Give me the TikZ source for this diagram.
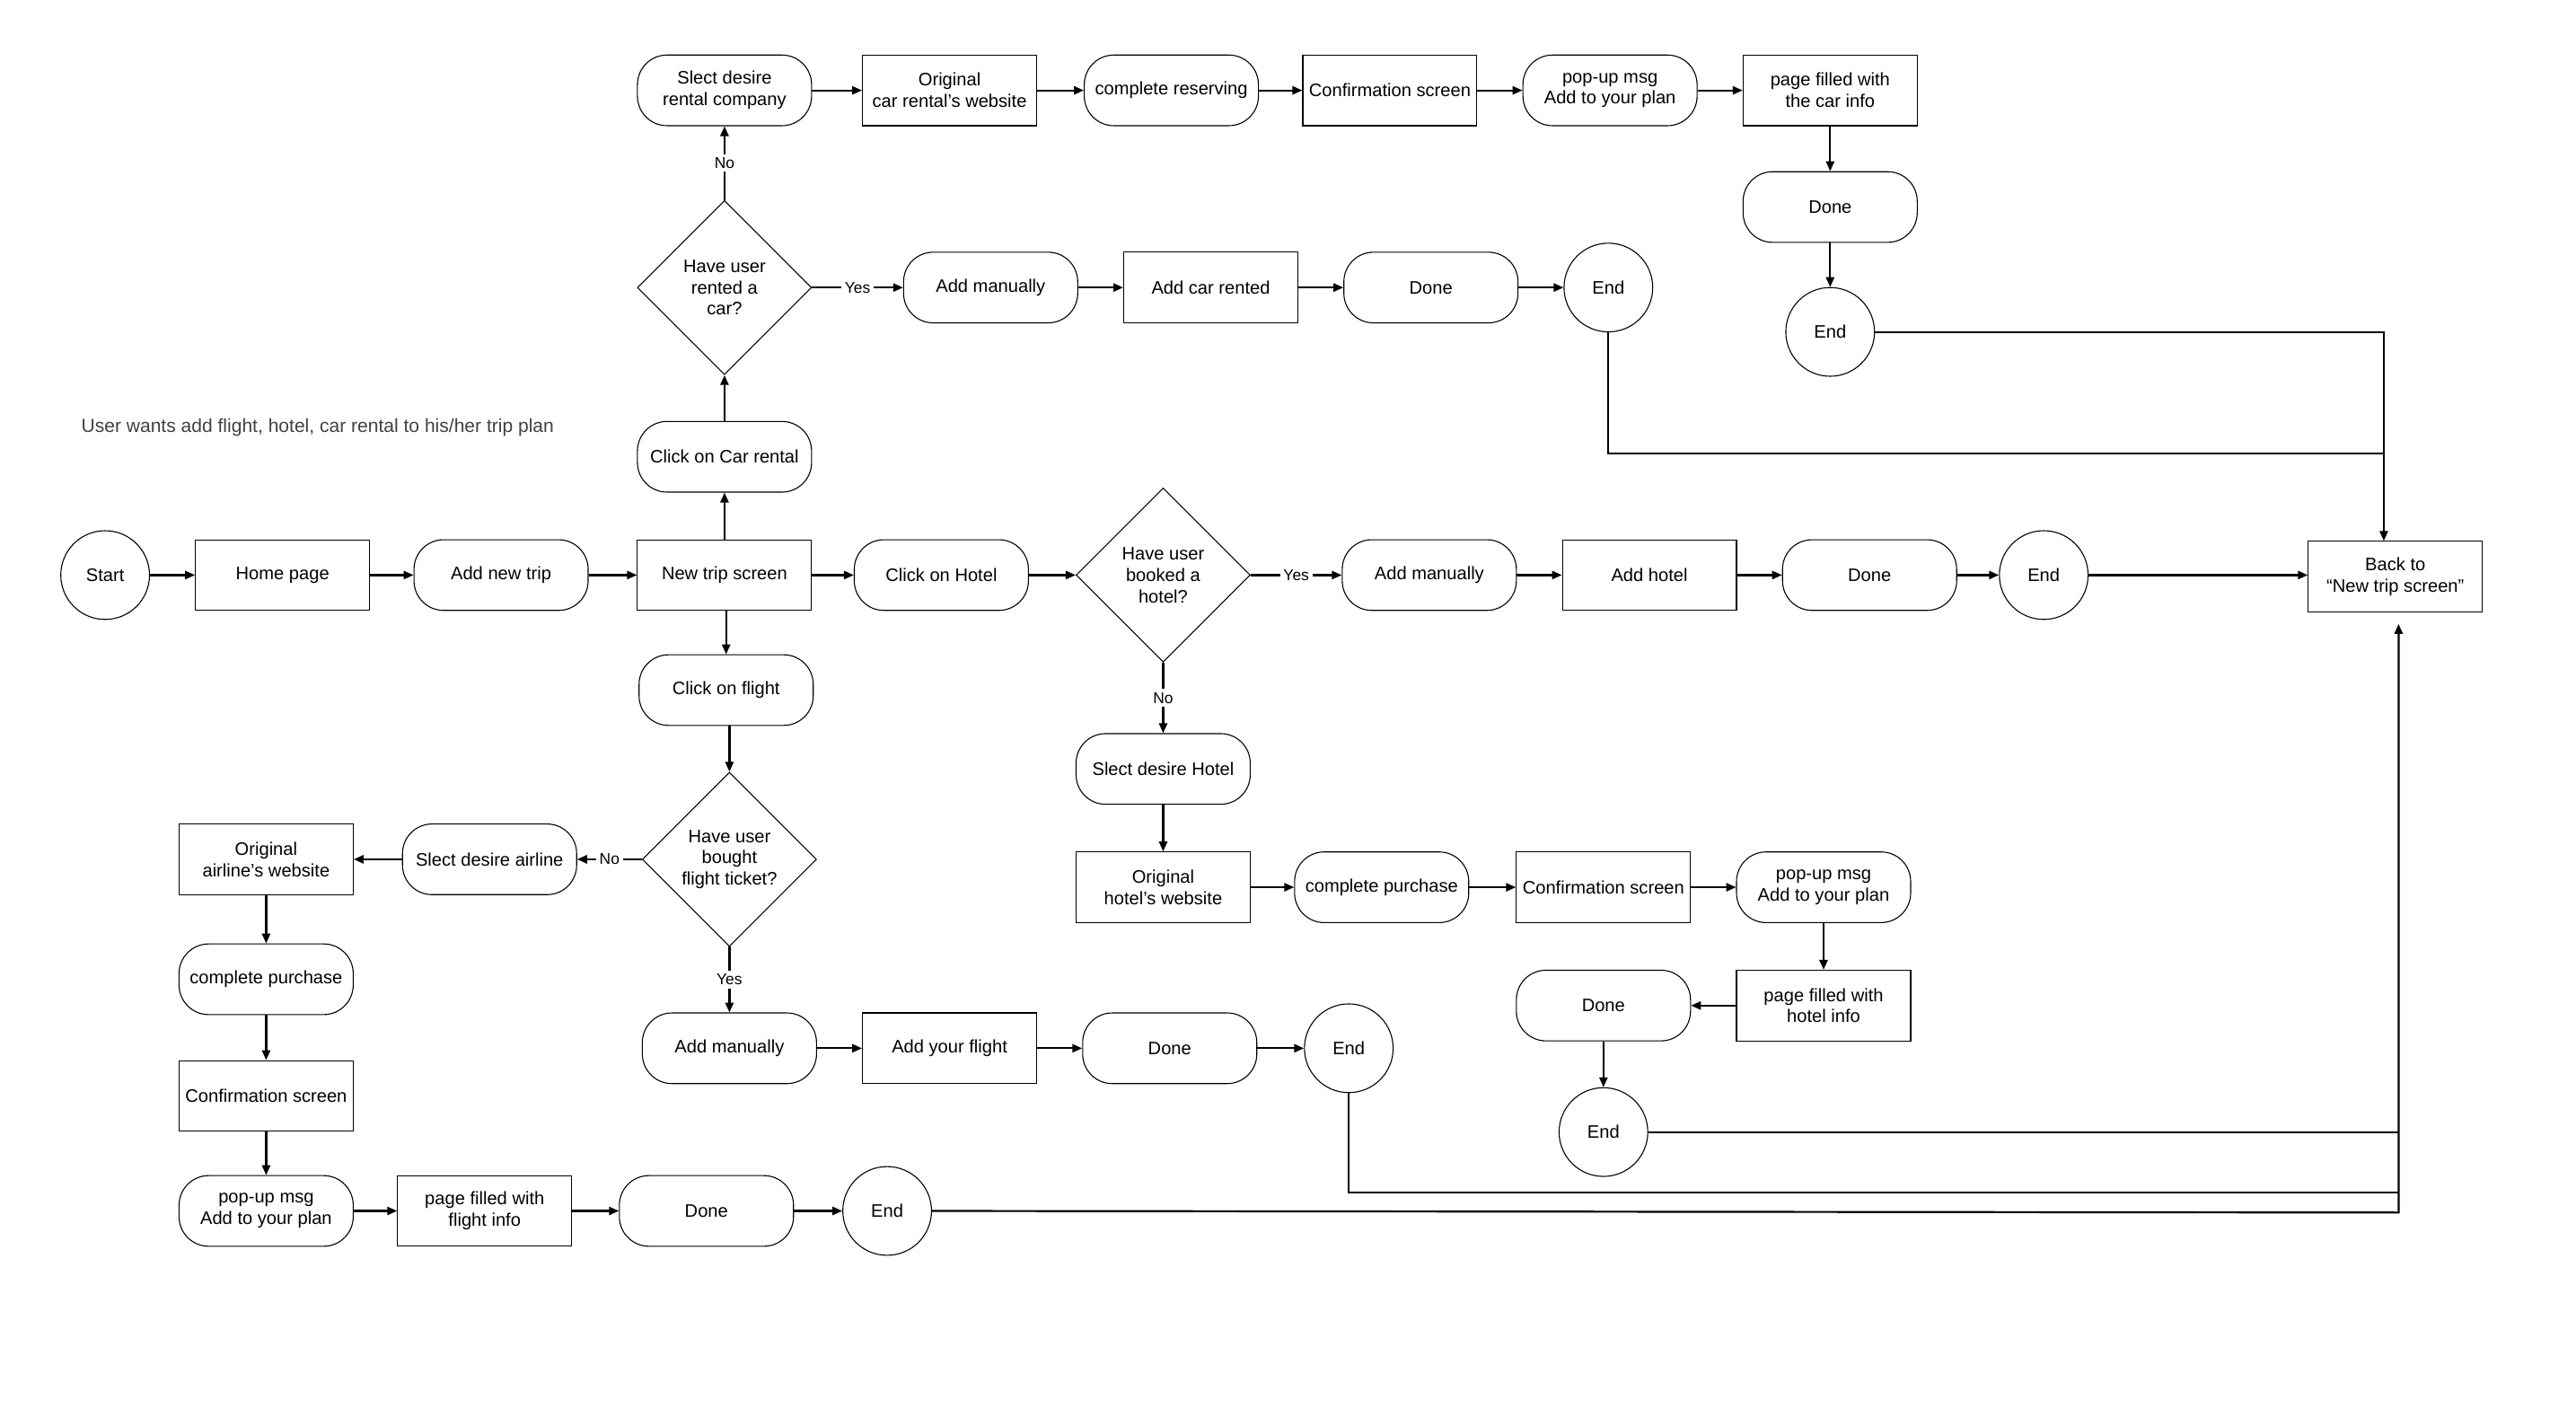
\documentclass[tikz,border=0pt]{standalone}
\usepackage{fontspec}
\setmainfont{Liberation Sans}
\usetikzlibrary{shapes.geometric}
\usetikzlibrary{arrows.meta}
\newcommand{\txt}{\fontsize{11}{13}\selectfont}
\tikzset{
  rectbox/.style={draw, line width=0.6pt, rectangle, minimum width=106pt, minimum height=43pt, inner sep=1pt, align=center, font=\txt},
  pillbox/.style={rectbox, rounded corners=18pt},
  circbox/.style={draw, line width=0.6pt, circle, minimum size=54pt, inner sep=0pt, font=\txt},
  decbox/.style={draw, line width=0.6pt, diamond, minimum width=106pt, minimum height=106pt, inner sep=0pt, align=center, font=\txt},
  yesno/.style={fill=white, inner sep=2pt, font=\fontsize{9.5}{11}\selectfont},
  arr/.style={line width=1.2pt, -{Triangle[length=6pt,width=5pt]}},
  ret/.style={line width=1.2pt}
}

\begin{document}
\begin{tikzpicture}[x=1pt, y=-1pt]
    \useasboundingbox (0,0) rectangle (1568,862);
    \node[anchor=west, font=\fontsize{11.5}{13}\selectfont, text=black!75] (title) at (46,260) {User wants add flight, hotel, car rental to his/her trip plan};
    %main row
    \node[circbox] (start) at (64,350) {Start};
    \node[rectbox] (home) at (172,350) {Home page};
    \node[pillbox] (addtrip) at (305,350) {Add new trip};
    \node[rectbox] (newtrip) at (441,350) {New trip screen};
    \node[pillbox] (clickhotel) at (573,350) {Click on Hotel};
    \node[decbox] (dechotel) at (708,350) {Have user\\booked a\\hotel?};
    \node[pillbox] (manhotel) at (870,350) {Add manually};
    \node[rectbox] (addhotel) at (1004,350) {Add hotel};
    \node[pillbox] (donehotel) at (1138,350) {Done};
    \node[circbox] (endhotel) at (1244,350) {End};
    \node[rectbox] (back) at (1458,351) {Back to\\“New trip screen”};
    %car rental
    \node[pillbox] (clickcar) at (441,278) {Click on Car rental};
    \node[decbox] (deccar) at (441,175) {Have user\\rented a\\car?};
    \node[pillbox] (mancar) at (603,175) {Add manually};
    \node[rectbox] (addcar) at (737,175) {Add car rented};
    \node[pillbox] (donecar) at (871,175) {Done};
    \node[circbox] (endcar) at (979,175) {End};
    \node[pillbox] (selcar) at (441,55) {Slect desire\\rental company};
    \node[rectbox] (origcar) at (578,55) {Original\\car rental’s website};
    \node[pillbox] (resvcar) at (713,55) {complete reserving};
    \node[rectbox] (confcar) at (846,55) {Confirmation screen};
    \node[pillbox] (popcar) at (980,55) {pop-up msg\\Add to your plan};
    \node[rectbox] (pagecar) at (1114,55) {page filled with\\the car info};
    \node[pillbox] (donecar2) at (1114,126) {Done};
    \node[circbox] (endcar2) at (1114,202) {End};
    %hotel
    \node[pillbox] (selhotel) at (708,468) {Slect desire Hotel};
    \node[rectbox] (orighotel) at (708,540) {Original\\hotel’s website};
    \node[pillbox] (purhotel) at (841,540) {complete purchase};
    \node[rectbox] (confhotel) at (976,540) {Confirmation screen};
    \node[pillbox] (pophotel) at (1110,540) {pop-up msg\\Add to your plan};
    \node[rectbox] (pagehotel) at (1110,612) {page filled with\\hotel info};
    \node[pillbox] (donehotel2) at (976,612) {Done};
    \node[circbox] (endhotel2) at (976,689) {End};
    %flight
    \node[pillbox] (clickflight) at (442,420) {Click on flight};
    \node[decbox] (decflight) at (444,523) {Have user\\bought\\flight ticket?};
    \node[pillbox] (selair) at (298,523) {Slect desire airline};
    \node[rectbox] (origair) at (162,523) {Original\\airline’s website};
    \node[pillbox] (purair) at (162,596) {complete purchase};
    \node[rectbox] (confair) at (162,667) {Confirmation screen};
    \node[pillbox] (popair) at (162,737) {pop-up msg\\Add to your plan};
    \node[rectbox] (pageair) at (295,737) {page filled with\\flight info};
    \node[pillbox] (doneair) at (430,737) {Done};
    \node[circbox] (endair) at (540,737) {End};
    \node[pillbox] (manflight) at (444,638) {Add manually};
    \node[rectbox] (addflight) at (578,638) {Add your flight};
    \node[pillbox] (doneflight) at (712,638) {Done};
    \node[circbox] (endflight) at (821,638) {End};
    %arrows
    \foreach \a/\b in {start/home, home/addtrip, addtrip/newtrip, newtrip/clickhotel, clickhotel/dechotel,
        manhotel/addhotel, addhotel/donehotel, donehotel/endhotel,
        newtrip/clickcar, clickcar/deccar, mancar/addcar, addcar/donecar, donecar/endcar,
        selcar/origcar, origcar/resvcar, resvcar/confcar, confcar/popcar, popcar/pagecar, pagecar/donecar2, donecar2/endcar2,
        selhotel/orighotel, orighotel/purhotel, purhotel/confhotel, confhotel/pophotel, pophotel/pagehotel, pagehotel/donehotel2, donehotel2/endhotel2,
        selair/origair, origair/purair, purair/confair, confair/popair, popair/pageair, pageair/doneair, doneair/endair,
        manflight/addflight, addflight/doneflight, doneflight/endflight}
        \draw[arr] (\a) -- (\b);
    \draw[arr] (newtrip.south -| clickflight) -- (clickflight.north);
    \draw[arr] (clickflight.south -| decflight) -- (decflight.north);
    \draw[arr] (deccar.north) -- node[yesno]{No} (selcar.south);
    \draw[arr] (deccar.east) -- node[yesno]{Yes} (mancar.west);
    \draw[arr] (dechotel.east) -- node[yesno]{Yes} (manhotel.west);
    \draw[arr] (dechotel.south) -- node[yesno]{No} (selhotel.north);
    \draw[arr] (decflight.west) -- node[yesno]{No} (selair.east);
    \draw[arr] (decflight.south) -- node[yesno]{Yes} (manflight.north);
    %back to new trip screen
    \coordinate (rt) at (1451,202);
    \coordinate (cj) at (1451,276);
    \coordinate (rb) at (1460,738);
    \coordinate (fj) at (1460,726);
    \draw[arr] (endcar2.east) -- (rt) -- (rt |- back.north);
    \draw[ret] (endcar.south) |- (cj);
    \draw[arr] (endhotel.east) -- (endhotel.east -| back.west);
    \draw[ret] (endhotel2.east) -- (endhotel2.east -| rb);
    \draw[ret] (endflight.south) |- (fj);
    \draw[arr, shorten >=7pt] (endair.east) -- (rb) -- (rb |- back.south);
\end{tikzpicture}
\end{document}
